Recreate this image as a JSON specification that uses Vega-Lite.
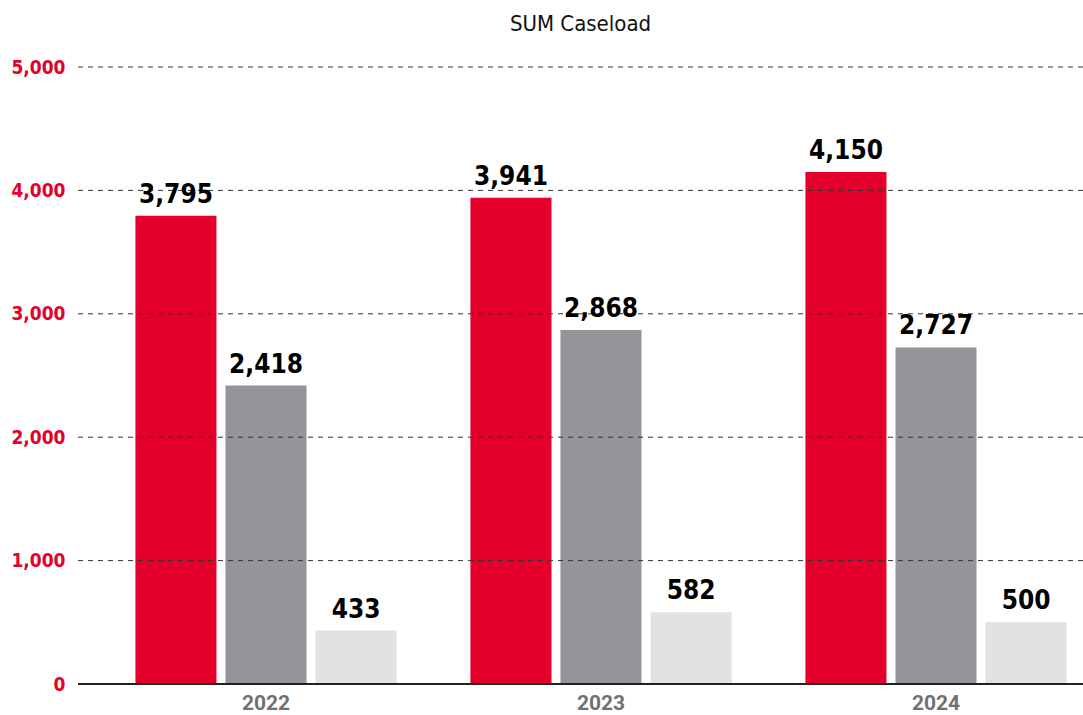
{
  "$schema": "https://vega.github.io/schema/vega-lite/v6.json",
  "width": 1005,
  "height": 617,
  "autosize": {"type": "none"},
  "padding": {"left": 78, "top": 67, "right": 0, "bottom": 31},
  "background": "white",
  "title": {
    "text": "SUM Caseload",
    "font": "DejaVu Sans Condensed",
    "fontSize": 22,
    "fontWeight": "normal",
    "color": "#111111",
    "anchor": "middle",
    "frame": "group",
    "offset": 22
  },
  "datasets": {
    "caseload": [
      {"year": "2022", "series": "A", "value": 3795},
      {"year": "2022", "series": "B", "value": 2418},
      {"year": "2022", "series": "C", "value": 433},
      {"year": "2023", "series": "A", "value": 3941},
      {"year": "2023", "series": "B", "value": 2868},
      {"year": "2023", "series": "C", "value": 582},
      {"year": "2024", "series": "A", "value": 4150},
      {"year": "2024", "series": "B", "value": 2727},
      {"year": "2024", "series": "C", "value": 500}
    ],
    "gridTicks": [
      {"tick": 1000}, {"tick": 2000}, {"tick": 3000}, {"tick": 4000}, {"tick": 5000}
    ]
  },
  "data": {"name": "caseload"},
  "layer": [
    {
      "mark": {"type": "bar"},
      "encoding": {
        "x": {
          "field": "year",
          "type": "nominal",
          "scale": {"paddingInner": 0, "paddingOuter": 0, "range": [20.5, 1025.5]},
          "axis": {
            "title": null,
            "labelAngle": 0,
            "ticks": false,
            "domain": false,
            "labelColor": "#707174",
            "labelFont": "Roboto",
            "labelFontWeight": "bold",
            "labelFontSize": 21,
            "labelPadding": 8,
            "grid": false
          }
        },
        "xOffset": {
          "field": "series",
          "type": "nominal",
          "scale": {"paddingInner": 0.1, "paddingOuter": 0.41}
        },
        "y": {
          "field": "value",
          "type": "quantitative",
          "scale": {"domain": [0, 5000], "nice": false},
          "axis": {
            "title": null,
            "values": [0, 1000, 2000, 3000, 4000, 5000],
            "format": ",d",
            "domain": false,
            "ticks": false,
            "grid": false,
            "labelColor": "#E4002B",
            "labelFont": "DejaVu Sans Condensed",
            "labelFontWeight": "bold",
            "labelFontSize": 19,
            "labelPadding": 13
          }
        },
        "color": {
          "field": "series",
          "type": "nominal",
          "scale": {"domain": ["A", "B", "C"], "range": ["#E4002B", "#939598", "#E1E2E3"]},
          "legend": null
        }
      }
    },
    {
      "data": {"name": "gridTicks"},
      "mark": {"type": "rule", "color": "#333333", "strokeWidth": 1, "strokeDash": [5, 5]},
      "encoding": {
        "y": {"field": "tick", "type": "quantitative"}
      }
    },
    {
      "mark": {"type": "rule", "color": "#222222", "strokeWidth": 1.5},
      "encoding": {
        "y": {"datum": 0, "type": "quantitative"}
      }
    },
    {
      "mark": {
        "type": "text",
        "font": "DejaVu Sans Condensed",
        "fontWeight": "bold",
        "fontSize": 26,
        "color": "#000000",
        "baseline": "alphabetic",
        "dy": -13
      },
      "encoding": {
        "x": {"field": "year", "type": "nominal"},
        "xOffset": {"field": "series", "type": "nominal"},
        "y": {"field": "value", "type": "quantitative"},
        "text": {"field": "value", "type": "quantitative", "format": ",d"}
      }
    }
  ],
  "config": {"view": {"stroke": null}}
}
